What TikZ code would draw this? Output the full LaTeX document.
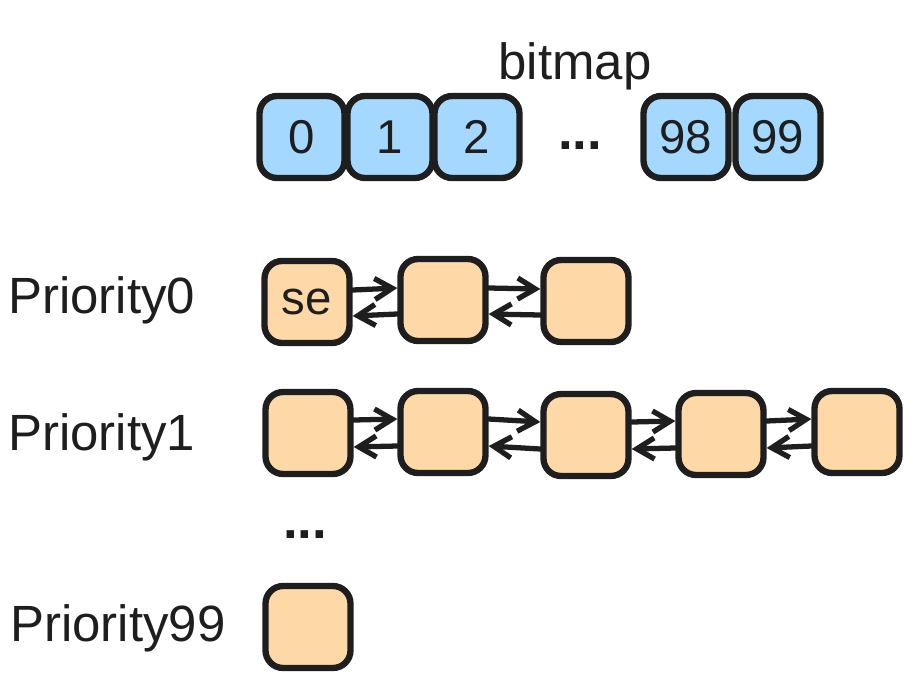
\documentclass[tikz,border=0pt]{standalone}
\usepackage{fontspec}
\setmainfont{Liberation Sans}
\usetikzlibrary{arrows.meta}
\definecolor{ink}{HTML}{1E1E1E}
\definecolor{bluefill}{HTML}{A5D8FF}
\definecolor{orangefill}{HTML}{FFD8A8}
\tikzset{
  cell/.style={draw=ink, line width=3.6pt, rounded corners=10pt, minimum width=1.7cm, minimum height=1.64cm, inner sep=0pt, font=\fontsize{27}{29}\selectfont, text=ink},
  bitcell/.style={cell, fill=bluefill},
  qcell/.style={cell, fill=orangefill},
  lbl/.style={font=\fontsize{29}{31}\selectfont, text=ink, inner sep=0pt},
  dots/.style={font=\fontsize{30}{32}\selectfont\bfseries, text=ink, inner sep=0pt},
  arr/.style={draw=ink, line width=3pt, line cap=round, -{Straight Barb[length=10pt,width=12pt,line width=3pt]}}
}
\begin{document}
\begin{tikzpicture}[x=0.02cm, y=-0.02cm]
\useasboundingbox (0,0) rectangle (914,691);
% bitmap
\node[lbl] (bm) at (575,66) {bitmap};
\node[bitcell] (b0) at (302,137) {0};
\node[bitcell] (b1) at (390,137) {1};
\node[bitcell] (b2) at (477,137) {2};
\node[dots] (bdots) at (580,146) {...};
\node[bitcell] (b98) at (686,137) {98};
\node[bitcell] (b99) at (778,137) {99};
% Priority0
\node[lbl, anchor=west] (l0) at (8,300) {Priority0};
\node[qcell] (p00) at (307,302) {se};
\node[qcell] (p01) at (443,300) {};
\node[qcell] (p02) at (586,301) {};
\draw[arr] ([yshift=12*0.02cm]p00.east) -- ([yshift=12*0.02cm]p01.west);
\draw[arr] ([yshift=-14*0.02cm]p01.west) -- ([yshift=-14*0.02cm]p00.east);
\draw[arr] ([yshift=12*0.02cm]p01.east) -- ([yshift=12*0.02cm]p02.west);
\draw[arr] ([yshift=-14*0.02cm]p02.west) -- ([yshift=-14*0.02cm]p01.east);
% Priority1
\node[lbl, anchor=west] (l1) at (8,437) {Priority1};
\node[qcell] (p10) at (308,433) {};
\node[qcell] (p11) at (443,432) {};
\node[qcell] (p12) at (586,435) {};
\node[qcell] (p13) at (721,434) {};
\node[qcell] (p14) at (857,432) {};
\foreach \a/\b in {p10/p11,p11/p12,p12/p13,p13/p14}{
  \draw[arr] ([yshift=13*0.02cm]\a.east) -- ([yshift=13*0.02cm]\b.west);
  \draw[arr] ([yshift=-14*0.02cm]\b.west) -- ([yshift=-14*0.02cm]\a.east);
}
% dots
\node[dots] (vdots) at (305,535) {...};
% Priority99
\node[lbl, anchor=west] (l99) at (10,628) {Priority99};
\node[qcell] (p99) at (308,627) {};
\end{tikzpicture}
\end{document}
